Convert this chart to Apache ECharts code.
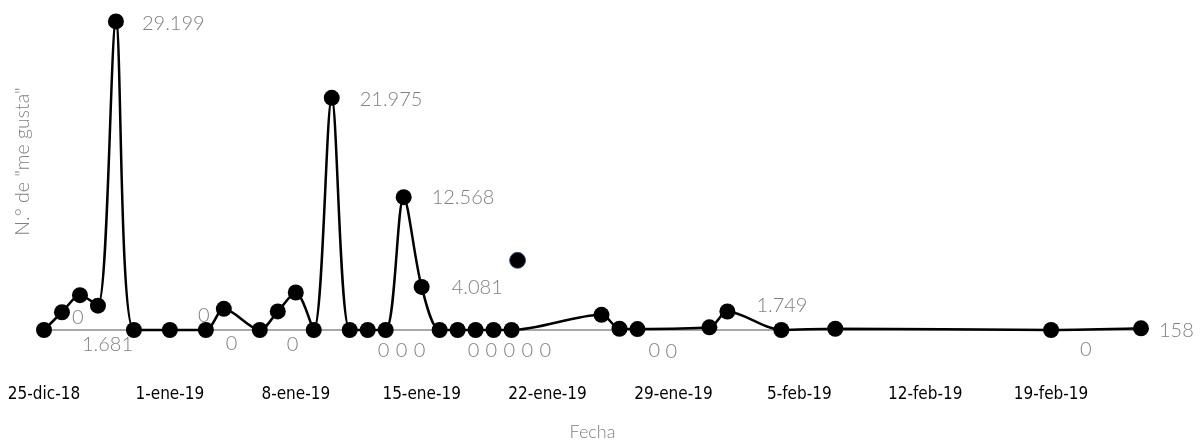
<!DOCTYPE html>
<html>
<head>
<meta charset="utf-8">
<script src="https://cdn.jsdelivr.net/npm/echarts@6/dist/echarts.min.js"></script>
<style>
html,body{margin:0;padding:0;background:#fff;}
#chart{width:1203px;height:446px;}
</style>
</head>
<body>
<div id="chart"></div>
<script>
// ---- data ----
const dates = [
  '2018-12-25','2018-12-26','2018-12-27','2018-12-28','2018-12-29','2018-12-30',
  '2019-01-01','2019-01-03','2019-01-04','2019-01-06','2019-01-07','2019-01-08',
  '2019-01-09','2019-01-10','2019-01-11','2019-01-12','2019-01-13','2019-01-14',
  '2019-01-15','2019-01-16','2019-01-17','2019-01-18','2019-01-19','2019-01-20',
  '2019-01-25','2019-01-26','2019-01-27','2019-01-31','2019-02-01','2019-02-04',
  '2019-02-07','2019-02-19','2019-02-24'
];
const likes = [
  0, 1681, 3300, 2300, 29199, 0,
  0, 0, 2000, 0, 1760, 3550,
  0, 21975, 0, 0, 0, 12568,
  4081, 0, 0, 0, 0, 0,
  1440, 120, 90, 250, 1749, 0,
  120, 0, 158
];
const labelTexts = [
  '0', '1.681', '', '', '29.199', '',
  '0', '0', '', '0', '', '',
  '', '21.975', '0', '0', '0', '12.568',
  '4.081', '0', '0', '0', '0', '0',
  '', '0', '0', '', '1.749', '',
  '', '0', '158'
];
const extraDates = ['2019-01-20T08:00:00Z'];
const extraLikes = [6590];
const axisStart = '2018-12-25';
const axisEnd = '2019-02-24';
const mesesAbrev = ['ene','feb','mar','abr','may','jun','jul','ago','sep','oct','nov','dic'];
const xTitle = 'Fecha';
const yTitle = 'N.° de "me gusta"';

// ---- label placement (style only) ----
const labelDx = [
  0, -8, 0, 0, -2, 0,
  0, -8, 0, -1, 0, 0,
  0, 0, 0, 0, 0, 0,
  2, 0, 0, 0, 0, 0,
  0, 1, 0, 0, 1, 0,
  0, 1, -10
];
const labelDy = [
  -12, 32, 0, 0, 2, 0,
  -14, 14, 0, 15, 0, 0,
  0, 2, 21, 21, 21, 0,
  1, 21, 21, 21, 21, 21,
  0, 22, 22, 0, -6, 0,
  0, 20, 2
];

const DAY = 86400000;
const base = Date.parse(axisStart + 'T00:00:00Z');
function toDay(s){ const t = s.length > 10 ? Date.parse(s) : Date.parse(s + 'T00:00:00Z'); return (t - base) / DAY; }
function fmt(d){
  const dt = new Date(base + d * DAY);
  return dt.getUTCDate() + '-' + mesesAbrev[dt.getUTCMonth()] + '-' + String(dt.getUTCFullYear()).slice(2);
}

const lineData = dates.map((d, i) => {
  const item = { value: [toDay(d), likes[i]] };
  if (labelTexts[i]) {
    item.label = { show: true, offset: [labelDx[i], labelDy[i]] };
  } else {
    item.label = { show: false };
  }
  return item;
});
const extraData = extraDates.map((d, i) => [toDay(d), extraLikes[i]]);

const chart = echarts.init(document.getElementById('chart'), null, { renderer: 'canvas' });
chart.setOption({
  animation: false,
  backgroundColor: '#ffffff',
  grid: { left: 44, right: 62, top: 13, bottom: 114, containLabel: false },
  xAxis: {
    type: 'value',
    min: 0,
    max: toDay(axisEnd),
    interval: 7,
    name: xTitle,
    nameLocation: 'middle',
    nameGap: 93,
    nameTextStyle: { color: '#808080', fontSize: 18, fontFamily: 'Lato', fontWeight: 300 },
    axisLine: { show: true, lineStyle: { color: '#8c8c8c', width: 1.5 } },
    axisTick: { show: false },
    splitLine: { show: false },
    axisLabel: {
      margin: 56,
      color: '#000',
      fontSize: 17,
      fontFamily: '"Liberation Sans Narrow", "DejaVu Sans Condensed", "Noto Sans", sans-serif',
      formatter: v => fmt(v),
      showMaxLabel: false
    }
  },
  yAxis: {
    type: 'value',
    min: 0,
    max: 30000,
    name: yTitle,
    nameLocation: 'middle',
    nameGap: 11,
    nameTextStyle: { color: '#808080', fontSize: 19.5, fontFamily: 'Lato', fontWeight: 300, padding: [0, 0, 0, 20] },
    axisLine: { show: false },
    axisTick: { show: false },
    axisLabel: { show: false },
    splitLine: { show: false }
  },
  series: [
    {
      type: 'line',
      data: lineData,
      smooth: 0.3,
      clip: false,
      symbol: 'circle',
      symbolSize: 16,
      itemStyle: { color: '#000' },
      lineStyle: { color: '#000', width: 2.5 },
      label: {
        show: true,
        position: 'right',
        distance: 20,
        color: '#808080',
        fontSize: 20,
        fontFamily: 'Lato',
        fontWeight: 300,
        formatter: p => labelTexts[p.dataIndex]
      },
      z: 3
    },
    {
      type: 'scatter',
      data: extraData,
      symbol: 'circle',
      symbolSize: 16,
      itemStyle: { color: '#000', opacity: 1, borderColor: '#2f4a7a', borderWidth: 0.8 },
      z: 4
    }
  ]
});
</script>
</body>
</html>
